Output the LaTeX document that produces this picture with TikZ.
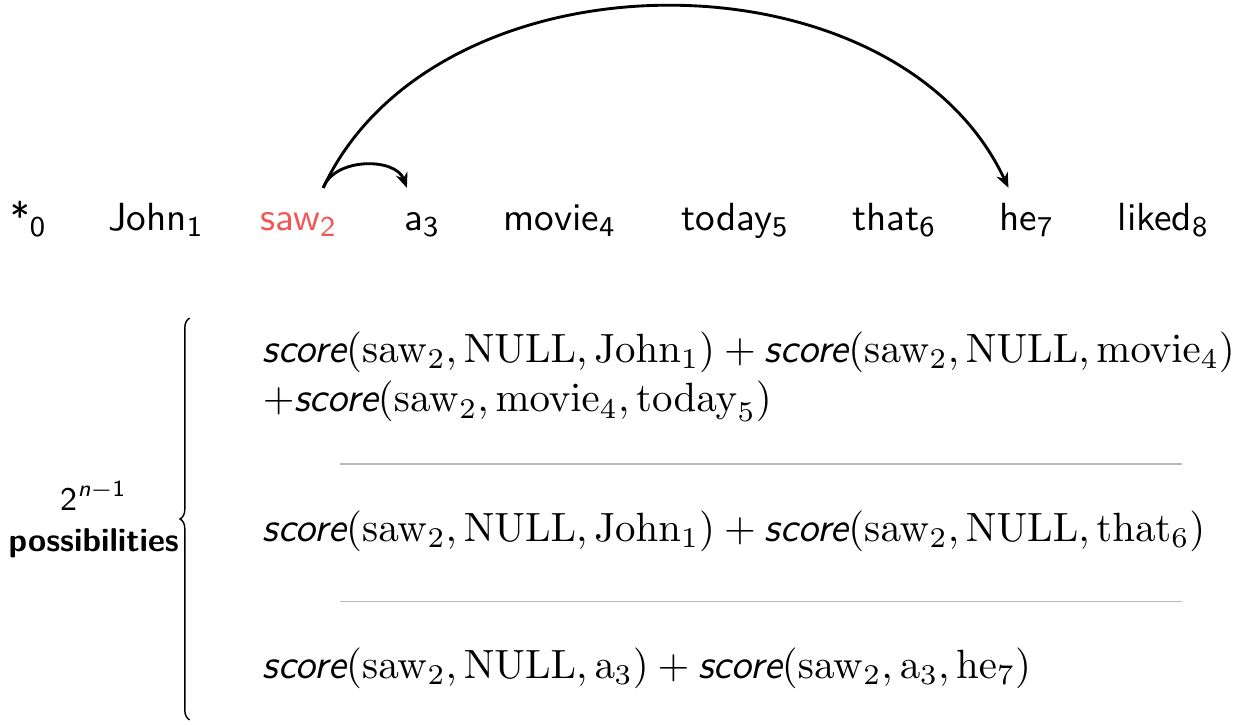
\RequirePackage{fix-cm}
\documentclass[tikz,border=0pt,11pt]{standalone}
\usetikzlibrary{decorations.pathreplacing,arrows.meta}

\definecolor{alertred}{RGB}{244,84,84}
\definecolor{rulegray}{RGB}{185,185,185}

% sans italic function name inside formulas
\newcommand{\scorefn}{\mbox{\sffamily\itshape score}}

\tikzset{
    word/.style={font=\sffamily, anchor=base, text height=1.7ex, text depth=.25ex},
    dep/.style={-{Stealth[length=4.2pt, width=3.4pt]}, thick},
    formula/.style={anchor=base west, align=left, inner sep=0pt,
        font=\fontsize{11.4pt}{13.7pt}\selectfont},
    sep/.style={rulegray, line width=0.4pt}
}

\begin{document}
\begin{tikzpicture}
    \useasboundingbox (0,0) rectangle (12.2,7.11);

    % Oracion
    \node[word] (w0) at (0.28,4.85) {*\textsubscript{0}};
    \node[word] (w1) at (1.53,4.85) {John\textsubscript{1}};
    \node[word, alertred] (w2) at (2.93,4.85) {saw\textsubscript{2}};
    \node[word] (w3) at (4.14,4.85) {a\textsubscript{3}};
    \node[word] (w4) at (5.49,4.85) {movie\textsubscript{4}};
    \node[word] (w5) at (7.21,4.85) {today\textsubscript{5}};
    \node[word] (w6) at (8.77,4.85) {that\textsubscript{6}};
    \node[word] (w7) at (10.07,4.85) {he\textsubscript{7}};
    \node[word] (w8) at (11.41,4.85) {liked\textsubscript{8}};

    % Dependencias
    \draw[dep] ([xshift=0.24cm]w2.north) to[out=70, in=110] ([xshift=-0.15cm]w3.north);
    \draw[dep] ([xshift=0.24cm]w2.north) to[out=65, in=115] ([xshift=-0.18cm]w7.north);

    % Llave con las posibilidades
    \draw[decorate, decoration={brace, amplitude=2.7pt}]
        (1.86,0.05) -- (1.86,3.99)
        node[midway, left=2.3pt, inner sep=0.5pt, align=center,
             font=\sffamily\fontsize{9.2pt}{11.4pt}\selectfont] (lbl)
            {2\textsuperscript{\itshape n\upshape$-$1}\\\textbf{possibilities}};

    % Puntuaciones
    \node[formula] (f1) at (2.57,3.07)
        {$\scorefn(\mathrm{saw}_2, \mathrm{NULL}, \mathrm{John}_1) + \scorefn(\mathrm{saw}_2, \mathrm{NULL}, \mathrm{movie}_4)$\\
         $+\scorefn(\mathrm{saw}_2, \mathrm{movie}_4, \mathrm{today}_5)$};
    \draw[sep] (3.33,2.56) -- (11.59,2.56);
    \node[formula] (f2) at (2.57,1.80)
        {$\scorefn(\mathrm{saw}_2, \mathrm{NULL}, \mathrm{John}_1) + \scorefn(\mathrm{saw}_2, \mathrm{NULL}, \mathrm{that}_6)$};
    \draw[sep] (3.33,1.21) -- (11.59,1.21);
    \node[formula] (f3) at (2.57,0.46)
        {$\scorefn(\mathrm{saw}_2, \mathrm{NULL}, \mathrm{a}_3) + \scorefn(\mathrm{saw}_2, \mathrm{a}_3, \mathrm{he}_7)$};
\end{tikzpicture}
\end{document}
